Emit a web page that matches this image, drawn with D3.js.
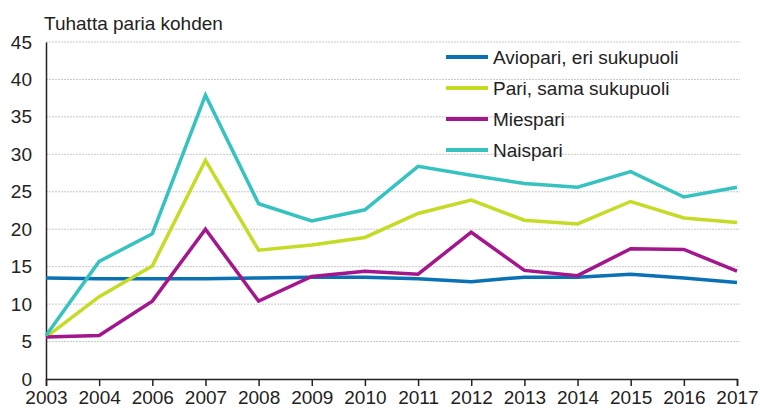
<!DOCTYPE html>
<html>
<head>
<meta charset="utf-8">
<script src="https://cdn.jsdelivr.net/npm/d3@7"></script>
<style>
    body { margin: 0; background: #fff; }
    #chart text { font-family: "Liberation Sans", Arial, sans-serif; fill: #222; }
</style>
</head>
<body>
<div id="chart"></div>
<script>
// categories (2005 is not in the data)
var years = ["2003", "2004", "2006", "2007", "2008", "2009", "2010", "2011", "2012", "2013", "2014", "2015", "2016", "2017"];

// series values, per thousand couples
var aviopari = [13.5, 13.4, 13.4, 13.4, 13.5, 13.6, 13.6, 13.4, 13.0, 13.6, 13.6, 14.0, 13.5, 12.9];
var pari = [5.6, 11.0, 15.1, 29.2, 17.2, 17.9, 18.9, 22.1, 23.9, 21.2, 20.7, 23.7, 21.5, 20.9];
var miespari = [5.6, 5.8, 10.4, 20.0, 10.4, 13.7, 14.4, 14.0, 19.6, 14.5, 13.8, 17.4, 17.3, 14.4];
var naispari = [5.8, 15.7, 19.4, 37.9, 23.4, 21.1, 22.6, 28.4, 27.2, 26.1, 25.6, 27.7, 24.3, 25.6];

var seriesNames = ["Aviopari, eri sukupuoli", "Pari, sama sukupuoli", "Miespari", "Naispari"];
var yTicks = [0, 5, 10, 15, 20, 25, 30, 35, 40, 45];
var yTitle = "Tuhatta paria kohden";

var colors = ["#0a71b4", "#c5db25", "#a3168c", "#36c3c0"];
var allSeries = [aviopari, pari, miespari, naispari];

var svgWidth = 760;
var svgHeight = 410;

var margin = {
    top: 42,
    right: 23,
    bottom: 31,
    left: 46
};

var width = svgWidth - margin.left - margin.right;
var height = svgHeight - margin.top - margin.bottom;

var svg = d3.select("#chart")
    .append("svg")
    .attr("width", svgWidth)
    .attr("height", svgHeight);

var chartGroup = svg.append("g")
    .attr("transform", `translate(${margin.left}, ${margin.top})`);

// scales
var xScale = d3.scalePoint()
    .domain(years)
    .range([0, width]);

var yScale = d3.scaleLinear()
    .domain([0, 45])
    .range([height, 0]);

// dotted gridlines
chartGroup.append("g")
    .selectAll("line")
    .data(yTicks.filter(d => d > 0))
    .enter()
    .append("line")
    .attr("x1", 0)
    .attr("x2", width + 3)
    .attr("y1", d => yScale(d))
    .attr("y2", d => yScale(d))
    .attr("stroke", "#c8c8c8")
    .attr("stroke-width", 1)
    .attr("stroke-dasharray", "2,1");

// y axis labels
var leftAxis = d3.axisLeft(yScale).tickValues(yTicks).tickSize(0).tickPadding(14);
var yAxisGroup = chartGroup.append("g").call(leftAxis);
yAxisGroup.select(".domain").attr("stroke", "#222").attr("stroke-width", 1.5);
yAxisGroup.selectAll("text").style("font-size", "19px");

// x axis
var bottomAxis = d3.axisBottom(xScale).tickSizeOuter(0).tickSize(7).tickPadding(5);
var xAxisGroup = chartGroup.append("g")
    .attr("transform", `translate(0, ${height})`)
    .call(bottomAxis);
xAxisGroup.select(".domain").attr("stroke", "#222").attr("stroke-width", 1.5);
xAxisGroup.selectAll(".tick line").attr("stroke", "#222").attr("stroke-width", 1.5);
xAxisGroup.selectAll("text").style("font-size", "19px");

// title
svg.append("text")
    .attr("x", 44)
    .attr("y", 30)
    .style("font-size", "19px")
    .text(yTitle);

// lines
var line = d3.line()
    .x((d, i) => xScale(years[i]))
    .y(d => yScale(d));

chartGroup.append("g")
    .selectAll("path")
    .data(allSeries)
    .enter()
    .append("path")
    .attr("d", d => line(d))
    .attr("fill", "none")
    .attr("stroke", (d, i) => colors[i])
    .attr("stroke-width", 3.5)
    .attr("stroke-linejoin", "miter");

// legend
var legend = svg.append("g")
    .attr("transform", "translate(446, 57)");

var legendRows = legend.selectAll("g")
    .data(seriesNames)
    .enter()
    .append("g")
    .attr("transform", (d, i) => `translate(0, ${i * 31})`);

legendRows.append("line")
    .attr("x1", 0)
    .attr("x2", 42)
    .attr("y1", 0)
    .attr("y2", 0)
    .attr("stroke", (d, i) => colors[i])
    .attr("stroke-width", 4);

legendRows.append("text")
    .attr("x", 47)
    .attr("y", 0)
    .attr("dy", "0.35em")
    .style("font-size", "19px")
    .text(d => d);
</script>
</body>
</html>
